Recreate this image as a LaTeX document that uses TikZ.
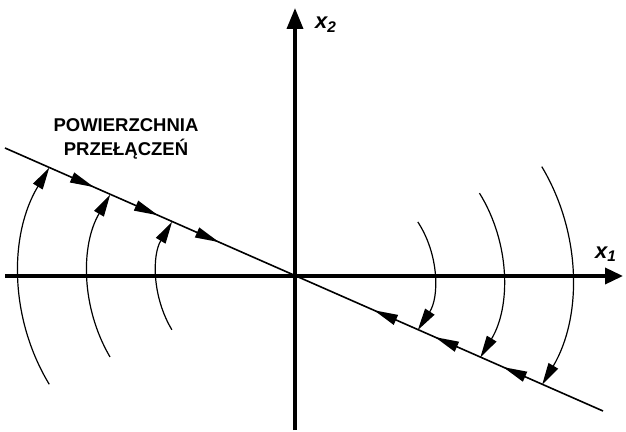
\documentclass[tikz,border=0pt]{standalone}
\usepackage{fontspec}
\setmainfont{Liberation Sans}
\usetikzlibrary{arrows.meta,calc,decorations.markings}
\begin{document}
\begin{tikzpicture}[x=1pt,y=1pt,
  axis/.style={line width=3.6pt},
  slideline/.style={line width=1.6pt},
  traj/.style={line width=1.2pt,-{Triangle[length=22pt,width=11pt]}},
  lbl/.style={font=\fontsize{18.5}{22}\selectfont\bfseries,inner sep=0pt},
  axlbl/.style={font=\fontsize{22}{26}\selectfont\bfseries\itshape,inner sep=0pt},
  fwd/.style={postaction={decorate,decoration={markings,
     mark=at position #1 with {\arrow{Triangle[length=24pt,width=10.5pt]}}}}},
  bwd/.style={postaction={decorate,decoration={markings,
     mark=at position #1 with {\arrowreversed{Triangle[length=24pt,width=10.5pt]}}}}}]
\useasboundingbox (0,0) rectangle (626,431);
% axes
\coordinate (O) at (295,155);
\coordinate (xs) at (5,155);
\coordinate (xe) at (623,155);
\coordinate (ys) at (295,1);
\coordinate (ye) at (295,423);
\draw[axis,-{Triangle[length=18pt,width=16pt]}] (xs) -- (xe);
\draw[axis,-{Triangle[length=21pt,width=16pt]}] (ys) -- (ye);
\node[axlbl,anchor=base west] (x1) at (595,172.5) {x\textsubscript{1}};
\node[axlbl,anchor=base west] (x2) at (315,402.5) {x\textsubscript{2}};
% switching line
\coordinate (sA) at (5,283);
\coordinate (sB) at (603,20);
\draw[slideline,fwd=0.1488,fwd=0.2559,fwd=0.3579,bwd=0.617,bwd=0.719,bwd=0.833] (sA) -- (sB);
\node[lbl,anchor=base] (t1) at (126,299) {POWIERZCHNIA};
\node[lbl,anchor=base] (t2) at (126,275.5) {PRZEŁĄCZEŃ};
% left trajectories
\coordinate (cL1) at (228,155);
\coordinate (cL2) at (248,155);
\coordinate (cL3) at (261.7,155);
\draw[traj] ($(cL1)+(211.2:209)$) arc[start angle=211.2,end angle=148.8,radius=209];
\draw[traj] ($(cL2)+(210.4:160)$) arc[start angle=210.4,end angle=149.5,radius=160];
\draw[traj] ($(cL3)+(210.9:104.7)$) arc[start angle=210.9,end angle=148.9,radius=104.7];
% right trajectories
\coordinate (cR1) at (334.9,155);
\coordinate (cR2) at (345.3,155);
\coordinate (cR3) at (359,155);
\draw[traj] ($(cR1)+(33.1:99)$) arc[start angle=33.1,end angle=-33.1,radius=99];
\draw[traj] ($(cR2)+(31.7:157.7)$) arc[start angle=31.7,end angle=-31.1,radius=157.7];
\draw[traj] ($(cR3)+(30.9:213)$) arc[start angle=30.9,end angle=-30.7,radius=213];
\end{tikzpicture}
\end{document}
